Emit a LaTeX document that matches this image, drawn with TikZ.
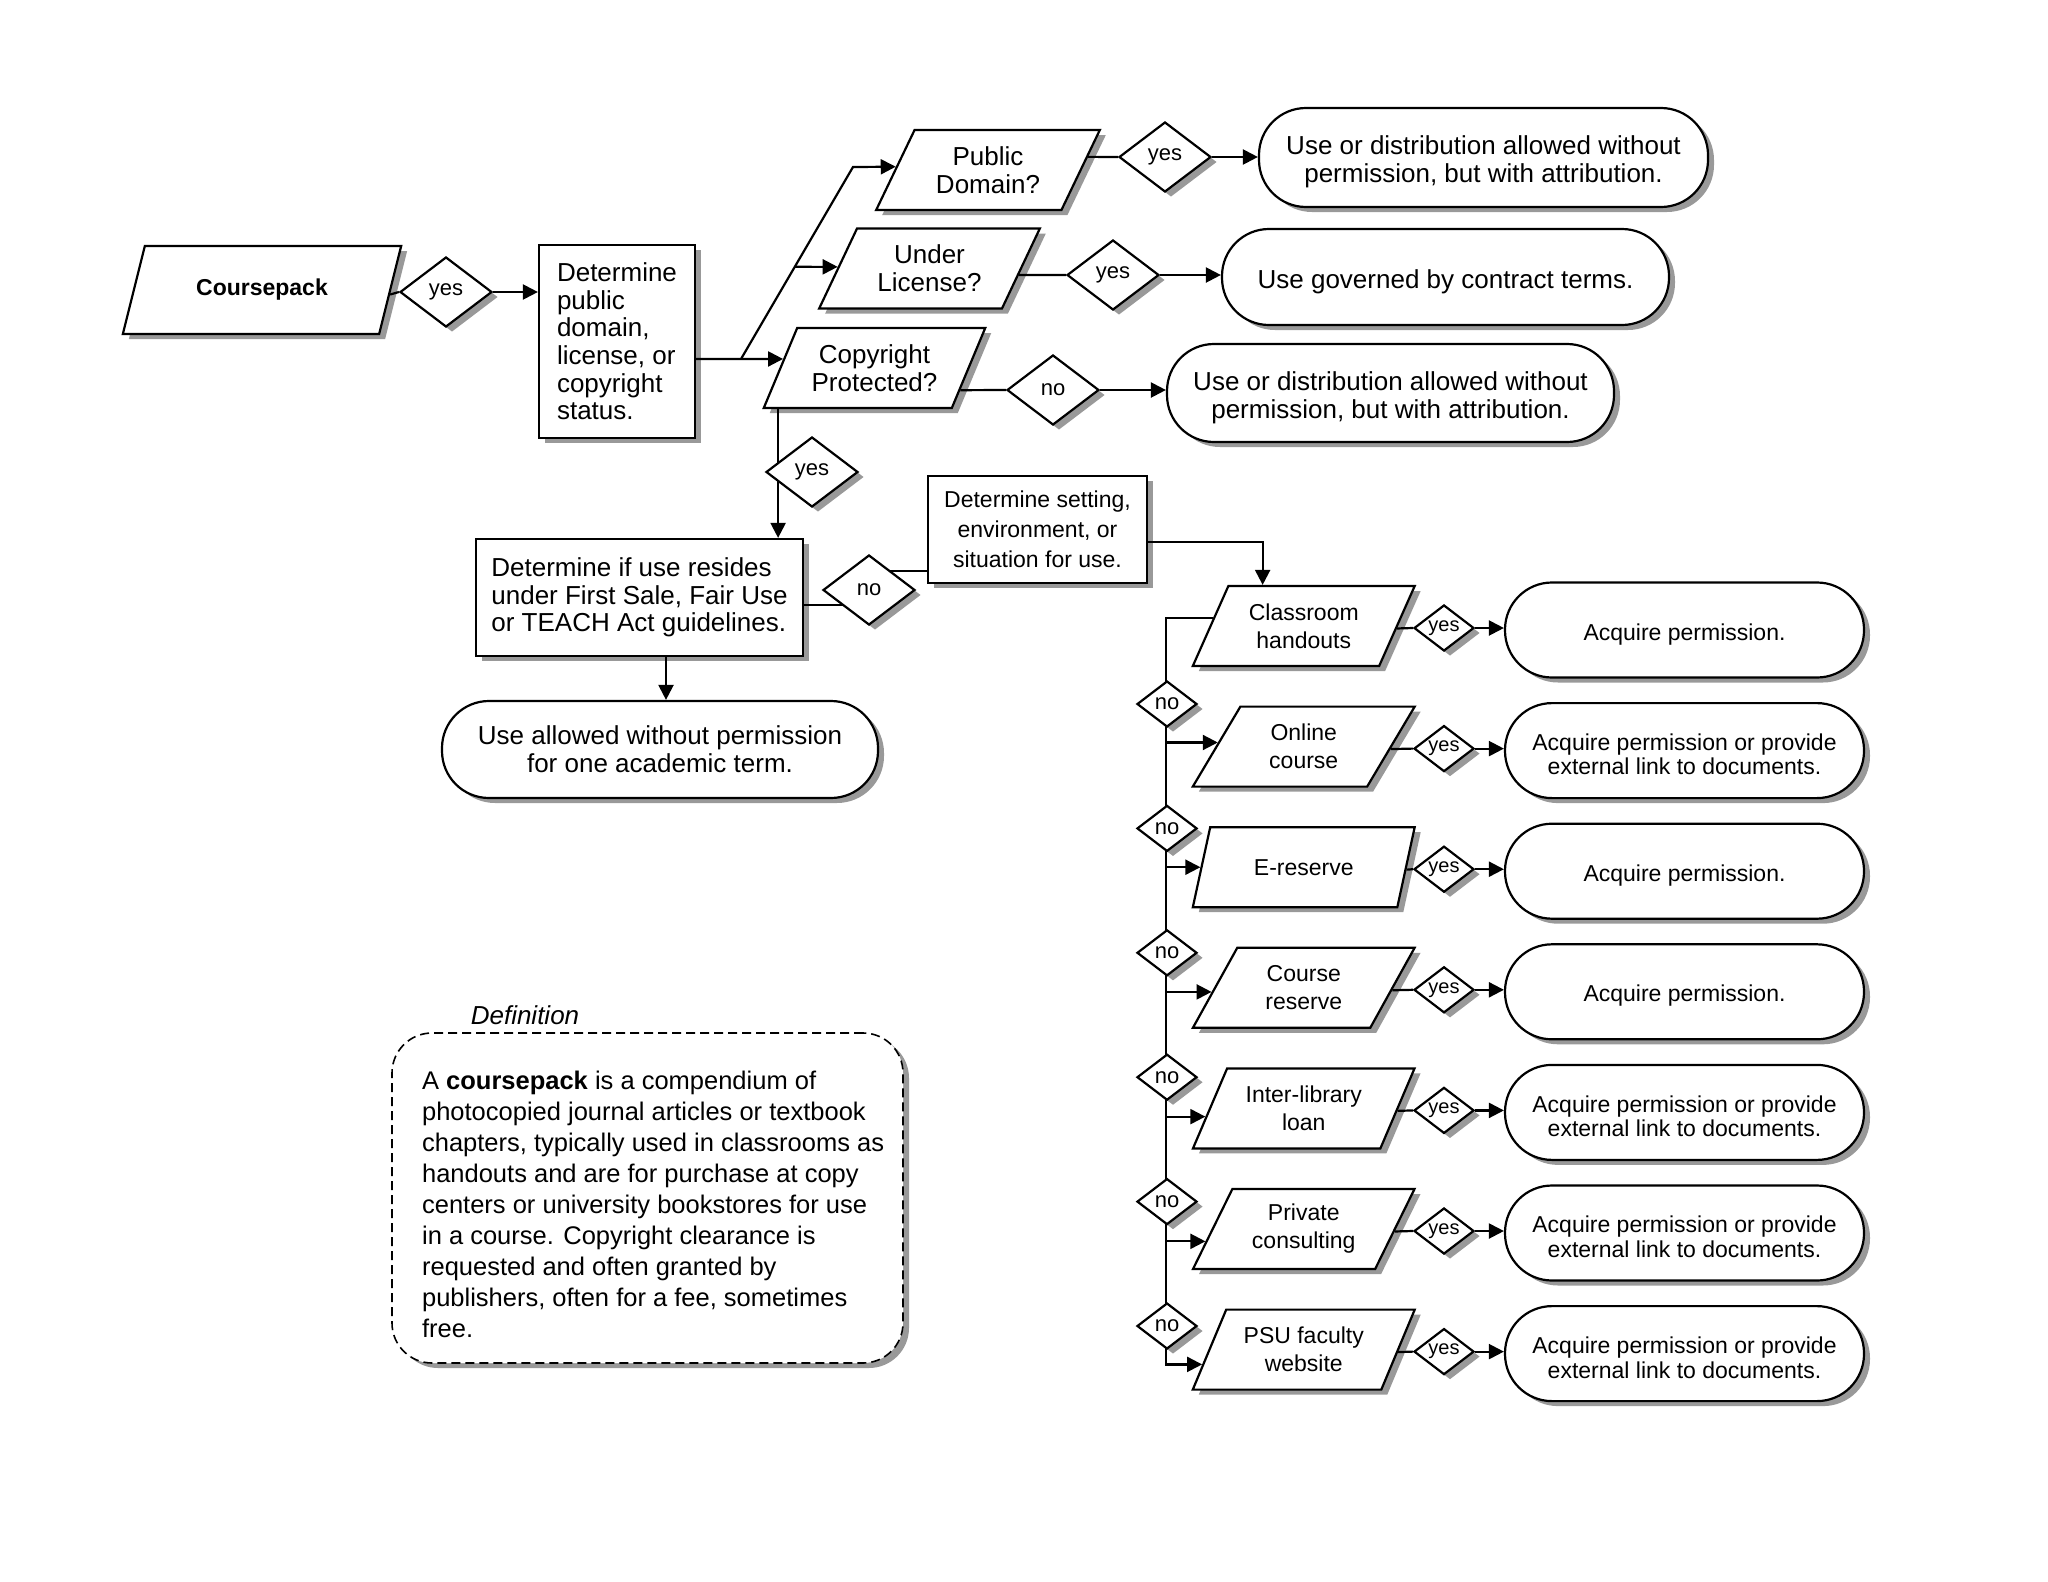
\documentclass[tikz,border=0pt]{standalone}
\usepackage{fontspec}
\setmainfont{Liberation Sans}
\usetikzlibrary{shapes.geometric, shadows, calc, arrows.meta}

\newcommand\fbig{\fontsize{26}{28}\selectfont}
\newcommand\fmid{\fontsize{23}{28}\selectfont}
\newcommand\fres{\fontsize{23}{24.5}\selectfont}
\newcommand\flab{\fontsize{22}{24}\selectfont}
\newcommand\fsmall{\fontsize{20}{22}\selectfont}

\begin{document}
\begin{tikzpicture}[
                x = 1pt,
                y = -1pt,
                > = {Triangle[length=15pt, width=15pt]},
              every path/.style = {line width=2.2pt},
            shade/.style = {drop shadow={shadow xshift=6pt, shadow yshift=-5pt,
                            fill=black!40, opacity=1}},
        drop text/.style = {execute at begin node={\rule{0pt}{#1}}},
             para/.style = {trapezium,
                            trapezium left angle=60,
                            trapezium right angle=120,
                            trapezium stretches=true,
                            draw, fill=white, shade,
                            align=center,
                            inner sep=0pt,
                            minimum width=222pt,
                            minimum height=80pt},
         question/.style = {para, font=\fbig},
           choice/.style = {para, font=\fmid},
            yesno/.style = {diamond, draw, fill=white, shade,
                            inner sep=0pt,
                            minimum width=92pt,
                            minimum height=70pt,
                            font=\flab},
             tick/.style = {yesno, minimum width=60pt, minimum height=46pt,
                            font=\fsmall},
          stepbox/.style = {rectangle, draw, fill=white, shade,
                            align=left, inner sep=0pt, font=\fbig},
           endbox/.style = {rectangle, rounded corners=47pt,
                            draw, fill=white, shade,
                            align=center, inner sep=0pt, font=\fbig},
           result/.style = {endbox,
                            minimum width=359pt,
                            minimum height=95pt,
                            font=\fres},
           defbox/.style = {rectangle, rounded corners=40pt,
                            draw, fill=white, shade,
                            line width=1.6pt,
                            dash pattern=on 9pt off 5pt,
                            minimum width=511pt,
                            minimum height=330pt},
            ]
\useasboundingbox (0,0) rectangle (2048,1582);

% start and status
\node[para, minimum width=279pt, minimum height=88pt, font=\fmid\bfseries]
    (cp) at (262,290) {Coursepack};
\node[yesno] (yes1) at (446,292) {yes};
\node[stepbox, minimum width=156pt, minimum height=193pt, font=\fontsize{26}{27.6}\selectfont]
    (det1) at (617,341.5) {Determine\\public\\domain,\\license, or\\copyright\\status.};

% the three questions
\node[question, minimum width=224pt] (pd)  at (988,170)    {Public\\Domain?};
\node[question, minimum width=221pt] (ul)  at (929.5,268.5) {Under\\License?};
\node[question] (cpr) at (874.5,368) {Copyright\\Protected?};

\node[yesno] (yes_pd) at (1165,157) {yes};
\node[yesno] (yes_ul) at (1113,275) {yes};
\node[yesno] (no_cp)  at (1053,390) {no};

\node[endbox, drop text=56pt, minimum width=449pt, minimum height=99pt] (res_pd) at (1483.5,157.5)
    {Use or distribution allowed without\\permission, but with attribution.};
\node[endbox, drop text=28pt, minimum width=447pt, minimum height=96pt] (res_ul) at (1445.5,277)
    {Use governed by contract terms.};
\node[endbox, drop text=56pt, minimum width=447pt, minimum height=98pt] (res_cp) at (1390.5,393)
    {Use or distribution allowed without\\permission, but with attribution.};

% copyright protected
\node[stepbox, minimum width=327pt, minimum height=117pt, font=\fontsize{26}{27.5}\selectfont]
    (det2) at (639.5,597.5) {Determine if use resides\\under First Sale, Fair Use\\or TEACH Act guidelines.};
\node[stepbox, align=center, minimum width=219pt, minimum height=107pt, font=\fontsize{23}{30}\selectfont]
    (setting) at (1037.5,529.5) {Determine setting,\\environment, or\\situation for use.};
\node[endbox, minimum width=436pt, minimum height=97pt] (use) at (660,749.5)
    {Use allowed without permission\\for one academic term.};

% settings
\foreach \txt/\res/\lift [count=\i from 0] in {
        {Classroom\\handouts}/{Acquire permission.}/25pt,
        {Online\\course}/{Acquire permission or provide\\external link to documents.}/49pt,
        {E-reserve}/{Acquire permission.}/25pt,
        {Course\\reserve}/{Acquire permission.}/25pt,
        {Inter-library\\loan}/{Acquire permission or provide\\external link to documents.}/49pt,
        {Private\\consulting}/{Acquire permission or provide\\external link to documents.}/49pt,
        {PSU faculty\\website}/{Acquire permission or provide\\external link to documents.}/49pt}{%
    \pgfmathsetmacro\yc{626+120.6*\i}
    \node[choice] (p\i) at (1303.75,\yc) {\txt};
    \node[tick] (y\i) at (1444,\yc+2) {yes};
    \node[result, drop text=\lift] (r\i) at (1684.5,\yc+4) {\res};
    \draw ($(p\i.bottom right corner)!.47!(p\i.top right corner)$) -- (y\i.west);
    \draw[->] (y\i.east) -- (r\i.west |- y\i.east);
}

% definition
\node[defbox] (def) at (647.5,1198) {};
\node[font=\fbig\itshape, inner sep=0pt] (deftitle) at (525,1015) {Definition};
\node[anchor=west, align=left, inner sep=0pt, font=\fontsize{25.5}{31}\selectfont]
    (deftxt) at (421,1204) {A \textbf{coursepack} is a compendium of\\
    photocopied journal articles or textbook\\
    chapters, typically used in classrooms as\\
    handouts and are for purchase at copy\\
    centers or university bookstores for use\\
    in a course. Copyright clearance is\\
    requested and often granted by\\
    publishers, often for a fee, sometimes\\
    free.};

% connectors
\coordinate (br)  at (741,359);
\coordinate (pdk) at (853,167);
\coordinate (nod) at (869,590);
\coordinate (sp)  at (1166,626);

\draw ($(cp.bottom right corner)!.45!(cp.top right corner)$) -- (yes1.west);
\draw[->] (yes1.east) -- (det1.west |- yes1.east);
\draw[->] (det1.east |- br) -- ($(cpr.bottom left corner)!.61!(cpr.top left corner)$);
\draw[->] (br) -- (pdk) -- ($(pd.bottom left corner)!.54!(pd.top left corner)$);
\draw[->] ($(br)!.48!(pdk)$) -- ($(ul.bottom left corner)!.52!(ul.top left corner)$);

\draw ($(pd.bottom right corner)!.66!(pd.top right corner)$) -- (yes_pd.west);
\draw[->] (yes_pd.east) -- (res_pd.west |- yes_pd.east);
\draw ($(ul.bottom right corner)!.42!(ul.top right corner)$) -- (yes_ul.west);
\draw[->] (yes_ul.east) -- (res_ul.west |- yes_ul.east);
\draw ($(cpr.bottom right corner)!.23!(cpr.top right corner)$) -- (no_cp.west);
\draw[->] (no_cp.east) -- (res_cp.west |- no_cp.east);

\coordinate (cpd) at ([xshift=16pt]cpr.bottom left corner);
\draw[->] (cpd) -- (cpd |- det2.north);
\draw ([yshift=-41.5pt]setting.west) -| (nod) |- ([yshift=-7.5pt]det2.east);
\draw[->] ([xshift=6pt]use.north |- det2.south) -- ([xshift=6pt]use.north);
\draw[->] ([yshift=-12.5pt]setting.east) -| ([xshift=35pt]p0.top left corner);

\foreach \i/\t in {1/.55, 2/.5, 3/.45, 4/.4, 5/.35, 6/.32}
    \coordinate (a\i) at ($(p\i.bottom left corner)!\t!(p\i.top left corner)$);
\draw[->] ($(p0.bottom left corner)!.6!(p0.top left corner)$) -| (sp |- a6) -- (a6);
\foreach \i in {1,...,5}
    \draw[->] (sp |- a\i) -- (a\i);

% diamonds sitting on lines
\node[yesno] (yes_c) at (812,472) {yes};
\node[yesno] (no_d) at (nod) {no};
\foreach \i in {1,...,6}
    \node[tick, font=\flab] (n\i) at (1167,579.6+124.4*\i) {no};

\end{tikzpicture}
\end{document}
